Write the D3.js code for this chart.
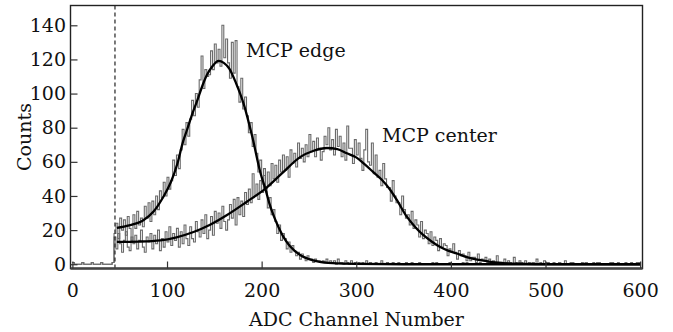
<!DOCTYPE html>
<html>
<head>
<meta charset="utf-8">
<script src="https://cdn.jsdelivr.net/npm/d3@7/dist/d3.min.js"></script>
<style>
  body { margin: 0; background: #fff; }
  svg { display: block; }
  text { font-family: "DejaVu Serif", "Liberation Serif", serif; fill: #111; }
</style>
</head>
<body>
<svg id="chart" width="673" height="332"></svg>
<script>
// histogram bins are 2 ADC channels wide
const binWidth = 2

// channels 0..42, below threshold
const pedestal = [1,0,0,0,0,1,0,0,0,0,1,0,0,0,0,1,0,0,0,0,0,1]

// channels 44..598
const edgeCounts = [
  18,24,15,27,20, 26,17,28,21,14, 29,21,31,23,27, 22,34,27,36,25,
  37,29,40,32,43, 39,48,40,51,44, 49,61,52,64,56, 67,79,70,83,75,
  85,96,87,100,92, 108,122,103,114,110, 111,125,114,129,118, 126,116,140,121,132,
  118,109,130,112,131, 104,95,109,91,98, 87,77,83,69,76, 65,54,61,47,52,
  43,33,39,29,32, 25,18,23,14,18, 15,9,13,7,11, 8,5,7,3,6,
  4,2,5,3,3, 1,3,2,2,1, 2,1,3,1,2, 1,2,0,3,1,
  1,0,2,1,0, 2,0,1,0,1, 0,1,0,2,0, 1,0,0,1,0,
  0,2,0,0,1, 0,0,1,0,0, 1,0,0,0,1, 0,0,1,0,0,
  0,1,0,0,0, 0,0,0,1,0, 1,0,0,0,0, 0,0,1,0,0,
  0,0,0,0,1, 0,1,0,0,0, 0,0,0,1,0, 0,0,0,0,0,
  1,0,0,0,0, 0,0,1,0,0, 0,0,0,0,1, 0,0,0,0,0,
  0,1,0,0,0, 0,0,0,1,0, 0,0,0,0,0, 1,0,0,0,0,
  0,0,1,0,0, 0,0,0,0,1, 0,0,0,0,0, 0,1,0,0,0,
  0,0,0,1,0, 0,0,0,0,0, 1,0,0,0,0, 0,0,1
]

const centerCounts = [
  16,9,18,12,7, 14,19,10,8,16, 12,17,9,14,20, 10,7,16,13,18,
  9,17,12,20,8, 15,10,19,13,22, 11,18,14,21,10, 19,12,23,15,11,
  22,15,13,25,19, 16,26,18,29,15, 20,28,17,31,24, 30,21,34,25,20,
  26,35,27,38,23, 39,29,37,28,42, 35,44,36,53,40, 47,38,49,42,56,
  44,54,46,59,50, 58,48,61,54,64, 55,63,51,67,59, 65,57,71,62,68,
  60,70,63,76,66, 72,63,74,68,61, 66,75,70,80,67, 73,64,79,69,75,
  63,71,61,81,68, 68,59,73,64,71, 62,55,67,79,60, 58,71,53,64,51,
  55,46,59,50,45, 45,37,49,40,36, 36,29,40,32,27, 29,23,31,21,26,
  23,16,25,15,20, 18,12,19,11,16, 14,8,15,10,12, 11,5,9,7,12,
  7,3,8,5,6, 5,2,7,2,4, 4,1,6,2,3, 2,4,1,3,1,
  2,0,5,1,0, 1,3,0,2,1, 0,4,1,0,2, 1,0,2,0,1,
  0,1,0,3,0, 1,0,2,0,1, 0,0,1,0,0, 1,0,0,2,0,
  0,1,0,0,0, 0,0,1,0,1, 0,0,0,1,0, 1,0,0,0,0,
  0,0,1,0,0, 0,1,0,0,0, 0,0,0,1,0, 0,1,0
]

// fitted curves
const edgeFitX = [47,60,75,86,96,104,111,117,121,126,132,137,142,148,154.5,160,166,173,181,190,199,204,208,213,218,223,230,241,250,260,275,300,350,600]
const edgeFitY = [21.3,22.8,25.8,31,39.4,48,59,72,78.5,87,96,104,110.7,116,119.1,118,114.5,106,94,75,53,44,36,28,21.5,16,10.5,5.3,3,1.5,0.6,0.2,0,0]

const centerFitX = [47,70,93,110,128,145,163,184,204,222,241,255,269,280,290,300,309,318,327,336,343,353.6,362,371,380,388.7,397,406.4,415,424,433,441.5,455,469.7,490,600]
const centerFitY = [13.1,13.3,14,15.8,18.9,23,28.7,36.5,44.3,53.5,62.9,66.5,68.1,67.5,65,62.6,58.5,54,49.5,43.5,37.5,27.7,22,17,13.2,10.1,8,6.3,4.5,3.2,2.2,1.4,0.7,0.3,0.1,0]

const xTicks = [0,100,200,300,400,500,600]
const yTicks = [0,20,40,60,80,100,120,140]
const threshold = 45

const labels = [
  { text: "MCP edge", x: 246, y: 57 },
  { text: "MCP center", x: 382, y: 142 }
]

const svg = d3.select("#chart")
const plotLeft = 70.5, plotRight = 642.5, plotTop = 5.5, plotBottom = 268.5

const x = d3.scaleLinear().domain([-2, 602.5]).range([plotLeft, plotRight])
const y = d3.scaleLinear().domain([-2.5, 151.6]).range([plotBottom, plotTop])

function toBins(counts) {
  const all = pedestal.concat(counts)
  const pts = all.map((v, i) => ({ c: i * binWidth, n: v }))
  pts.push({ c: all.length * binWidth, n: all[all.length - 1] })
  return pts
}

const stepLine = d3.line()
  .x(d => x(d.c))
  .y(d => y(d.n))
  .curve(d3.curveStepAfter)

const fitLine = d3.line()
  .x(d => x(d[0]))
  .y(d => y(d[1]))
  .curve(d3.curveMonotoneX)

// raw spectra
;[edgeCounts, centerCounts].forEach(counts => {
  svg.append("path")
    .attr("d", stepLine(toBins(counts)))
    .attr("fill", "none")
    .attr("stroke", "#6a6a6a")
    .attr("stroke-width", 1.1)
})

// fits
;[[edgeFitX, edgeFitY], [centerFitX, centerFitY]].forEach(([fx, fy]) => {
  svg.append("path")
    .attr("d", fitLine(fx.map((v, i) => [v, fy[i]])))
    .attr("fill", "none")
    .attr("stroke", "#000")
    .attr("stroke-width", 2.3)
})

// threshold marker
svg.append("line")
  .attr("x1", x(threshold)).attr("x2", x(threshold))
  .attr("y1", plotTop).attr("y2", plotBottom)
  .attr("stroke", "#222")
  .attr("stroke-width", 1.2)
  .attr("stroke-dasharray", "4,3")

// frame
svg.append("rect")
  .attr("x", plotLeft).attr("y", plotTop)
  .attr("width", plotRight - plotLeft).attr("height", plotBottom - plotTop)
  .attr("fill", "none")
  .attr("stroke", "#222")
  .attr("stroke-width", 1.4)

svg.append("line")
  .attr("x1", plotLeft).attr("x2", plotRight)
  .attr("y1", plotBottom).attr("y2", plotBottom)
  .attr("stroke", "#444")
  .attr("stroke-width", 2.4)

const xAxis = svg.append("g")
  .attr("transform", `translate(0,${plotBottom})`)
  .call(d3.axisBottom(x).tickValues(xTicks).tickSizeInner(-7).tickSizeOuter(0).tickPadding(15))
xAxis.select(".domain").remove()

const yAxis = svg.append("g")
  .attr("transform", `translate(${plotLeft},0)`)
  .call(d3.axisLeft(y).tickValues(yTicks).tickSizeInner(-7).tickSizeOuter(0).tickPadding(4.5))
yAxis.select(".domain").remove()

svg.selectAll(".tick line").attr("stroke", "#333").attr("stroke-width", 1.2)
svg.selectAll(".tick text").attr("font-size", 19).attr("fill", "#111")
  .style("font-family", '"DejaVu Serif", serif')

svg.append("text")
  .attr("x", (plotLeft + plotRight) / 2)
  .attr("y", 326)
  .attr("text-anchor", "middle")
  .attr("font-size", 19)
  .text("ADC Channel Number")

svg.append("text")
  .attr("transform", "translate(31,137) rotate(-90)")
  .attr("text-anchor", "middle")
  .attr("font-size", 19)
  .text("Counts")

labels.forEach(l => {
  svg.append("text")
    .attr("x", l.x)
    .attr("y", l.y)
    .attr("font-size", 19)
    .text(l.text)
})
</script>
</body>
</html>
